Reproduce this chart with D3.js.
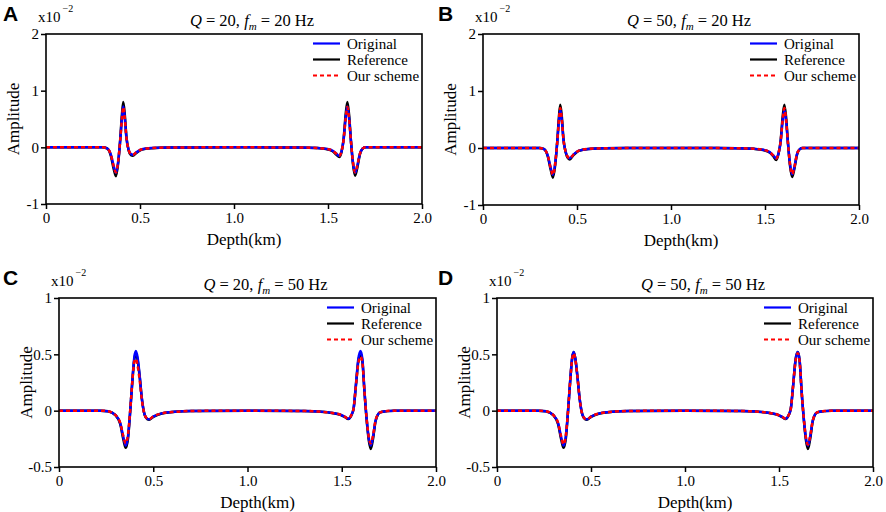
<!DOCTYPE html>
<html lang="en">
<head>
  <meta charset="UTF-8">
  <title>Wavefield comparison</title>
  <script src="https://d3js.org/d3.v7.min.js"></script>
  <style>
    body {
      margin: 0;
      padding: 0;
      background-color: #fff;
    }
    svg text {
      font-family: "Liberation Serif", "Times New Roman", serif;
      fill: #000;
    }
    .letter {
      font-family: "Liberation Sans", Arial, sans-serif !important;
      font-weight: bold;
    }
  </style>
</head>
<body>
  <svg id="chart" width="886" height="512"></svg>

  <script>
    // ---- data (amplitudes in units of 1e-2) ----
    const panelLetters = ["A", "B", "C", "D"];
    const panelQ = [20, 50, 20, 50];
    const panelFm = [20, 20, 50, 50];
    const seriesNames = ["Original", "Reference", "Our scheme"];

    const xTicks = [0, 0.5, 1, 1.5, 2];
    const xTickLabels = ["0", "0.5", "1.0", "1.5", "2.0"];
    const yTicks20 = [-1, 0, 1, 2];
    const yTickLabels20 = ["-1", "0", "1", "2"];
    const yTicks50 = [-0.5, 0, 0.5, 1];
    const yTickLabels50 = ["-0.5", "0", "0.5", "1"];

    // depth samples (km) for the 20 Hz panels
    const depth20 = [0, 0.30, 0.325, 0.345, 0.36, 0.372, 0.384, 0.395, 0.404, 0.411,
      0.419, 0.428, 0.44, 0.452, 0.462, 0.48, 0.51, 0.56, 0.65, 1.0,
      1.35, 1.44, 1.49, 1.525, 1.545, 1.56, 1.572, 1.583, 1.594, 1.603,
      1.612, 1.622, 1.633, 1.644, 1.656, 1.67, 1.685, 1.70, 2.0];

    const refA = [0, 0, -0.02, -0.15, -0.38, -0.51, -0.28, 0.15, 0.58, 0.80,
      0.58, 0.18, -0.06, -0.14, -0.15, -0.10, -0.04, -0.015, -0.003, 0,
      -0.003, -0.012, -0.03, -0.07, -0.13, -0.17, -0.08, 0.15, 0.58, 0.80,
      0.58, 0.12, -0.30, -0.50, -0.36, -0.12, -0.02, 0, 0];
    const origA = [0, 0, -0.02, -0.13, -0.33, -0.45, -0.25, 0.13, 0.52, 0.72,
      0.52, 0.16, -0.05, -0.12, -0.13, -0.09, -0.035, -0.013, -0.003, 0,
      -0.003, -0.011, -0.027, -0.06, -0.115, -0.15, -0.07, 0.13, 0.52, 0.72,
      0.52, 0.11, -0.27, -0.45, -0.32, -0.11, -0.02, 0, 0];
    const schemeA = [0, 0, -0.02, -0.13, -0.33, -0.44, -0.24, 0.13, 0.51, 0.71,
      0.51, 0.16, -0.05, -0.12, -0.13, -0.09, -0.035, -0.013, -0.003, 0,
      -0.003, -0.011, -0.027, -0.06, -0.115, -0.15, -0.07, 0.13, 0.51, 0.71,
      0.51, 0.11, -0.26, -0.44, -0.32, -0.11, -0.02, 0, 0];

    const refB = [0, 0, -0.02, -0.15, -0.38, -0.52, -0.30, 0.12, 0.55, 0.76,
      0.56, 0.16, -0.08, -0.18, -0.20, -0.13, -0.05, -0.018, -0.004, 0,
      -0.004, -0.015, -0.035, -0.08, -0.15, -0.21, -0.10, 0.12, 0.55, 0.76,
      0.55, 0.10, -0.31, -0.51, -0.37, -0.12, -0.02, 0, 0];
    const origB = [0, 0, -0.02, -0.14, -0.35, -0.47, -0.27, 0.10, 0.48, 0.67,
      0.49, 0.14, -0.07, -0.16, -0.18, -0.12, -0.045, -0.016, -0.004, 0,
      -0.004, -0.014, -0.032, -0.072, -0.135, -0.18, -0.09, 0.10, 0.48, 0.67,
      0.48, 0.09, -0.28, -0.46, -0.34, -0.11, -0.02, 0, 0];
    const schemeB = [0, 0, -0.02, -0.14, -0.35, -0.47, -0.27, 0.11, 0.50, 0.70,
      0.51, 0.15, -0.07, -0.16, -0.18, -0.12, -0.045, -0.016, -0.004, 0,
      -0.004, -0.014, -0.032, -0.072, -0.135, -0.18, -0.09, 0.11, 0.50, 0.70,
      0.50, 0.09, -0.28, -0.46, -0.34, -0.11, -0.02, 0, 0];

    // depth samples (km) for the 50 Hz panels
    const depth50 = [0, 0.22, 0.26, 0.30, 0.325, 0.342, 0.354, 0.366, 0.378, 0.39,
      0.40, 0.408, 0.416, 0.428, 0.44, 0.455, 0.468, 0.478, 0.50, 0.545,
      0.615, 0.70, 1.0, 1.30, 1.38, 1.45, 1.49, 1.515, 1.535, 1.55,
      1.563, 1.575, 1.588, 1.60, 1.61, 1.62, 1.632, 1.644, 1.654, 1.666,
      1.68, 1.703, 1.74, 1.78, 2.0];

    const refC = [0, 0, -0.005, -0.04, -0.12, -0.26, -0.33, -0.25, 0, 0.28,
      0.46, 0.51, 0.46, 0.30, 0.10, -0.04, -0.075, -0.08, -0.055, -0.025,
      -0.01, -0.003, 0, -0.003, -0.008, -0.02, -0.035, -0.055, -0.075, -0.045,
      0.02, 0.22, 0.44, 0.51, 0.43, 0.18, -0.08, -0.27, -0.34, -0.25,
      -0.09, -0.015, -0.004, 0, 0];
    const origC = [0, 0, -0.005, -0.04, -0.11, -0.24, -0.31, -0.23, 0, 0.29,
      0.48, 0.53, 0.48, 0.31, 0.10, -0.04, -0.072, -0.077, -0.053, -0.024,
      -0.01, -0.003, 0, -0.003, -0.008, -0.02, -0.034, -0.053, -0.072, -0.043,
      0.02, 0.23, 0.46, 0.53, 0.45, 0.19, -0.07, -0.25, -0.31, -0.23,
      -0.085, -0.015, -0.004, 0, 0];
    const schemeC = [0, 0, -0.005, -0.04, -0.11, -0.23, -0.29, -0.21, 0.01, 0.28,
      0.44, 0.46, 0.41, 0.27, 0.09, -0.04, -0.07, -0.075, -0.052, -0.024,
      -0.01, -0.003, 0, -0.003, -0.008, -0.02, -0.034, -0.052, -0.07, -0.042,
      0.02, 0.22, 0.42, 0.48, 0.42, 0.18, -0.07, -0.24, -0.29, -0.22,
      -0.08, -0.015, -0.004, 0, 0];

    const refD = [0, 0, -0.005, -0.04, -0.12, -0.26, -0.33, -0.25, 0, 0.28,
      0.47, 0.52, 0.47, 0.30, 0.10, -0.04, -0.075, -0.08, -0.055, -0.025,
      -0.01, -0.003, 0, -0.003, -0.008, -0.02, -0.035, -0.055, -0.075, -0.045,
      0.02, 0.22, 0.45, 0.52, 0.44, 0.18, -0.08, -0.27, -0.34, -0.25,
      -0.09, -0.015, -0.004, 0, 0];
    const origD = [0, 0, -0.005, -0.04, -0.11, -0.24, -0.31, -0.23, 0, 0.28,
      0.47, 0.52, 0.47, 0.30, 0.10, -0.04, -0.072, -0.077, -0.053, -0.024,
      -0.01, -0.003, 0, -0.003, -0.008, -0.02, -0.034, -0.053, -0.072, -0.043,
      0.02, 0.22, 0.45, 0.52, 0.44, 0.18, -0.07, -0.25, -0.31, -0.23,
      -0.085, -0.015, -0.004, 0, 0];
    const schemeD = [0, 0, -0.005, -0.04, -0.11, -0.235, -0.30, -0.22, 0, 0.28,
      0.46, 0.51, 0.46, 0.30, 0.10, -0.04, -0.072, -0.077, -0.053, -0.024,
      -0.01, -0.003, 0, -0.003, -0.008, -0.02, -0.034, -0.053, -0.072, -0.043,
      0.02, 0.22, 0.44, 0.51, 0.43, 0.18, -0.07, -0.245, -0.30, -0.225,
      -0.085, -0.015, -0.004, 0, 0];

    // ---- layout ----
    const frames = [
      { left: 46,  top: 34,  right: 422, bottom: 204 },
      { left: 483, top: 34,  right: 859, bottom: 205 },
      { left: 59,  top: 298, right: 436, bottom: 467 },
      { left: 497, top: 298, right: 873, bottom: 467 }
    ];

    const panels = [
      { depth: depth20, orig: origA, ref: refA, scheme: schemeA, yDomain: [-1, 2], yTicks: yTicks20, yLabels: yTickLabels20 },
      { depth: depth20, orig: origB, ref: refB, scheme: schemeB, yDomain: [-1, 2], yTicks: yTicks20, yLabels: yTickLabels20 },
      { depth: depth50, orig: origC, ref: refC, scheme: schemeC, yDomain: [-0.5, 1], yTicks: yTicks50, yLabels: yTickLabels50 },
      { depth: depth50, orig: origD, ref: refD, scheme: schemeD, yDomain: [-0.5, 1], yTicks: yTicks50, yLabels: yTickLabels50 }
    ];

    const colors = { orig: "#0000ff", ref: "#000000", scheme: "#ff0000" };
    const svg = d3.select("#chart");

    panels.forEach((p, i) => {
      const f = frames[i];
      const g = svg.append("g");
      const x = d3.scaleLinear().domain([0, 2]).range([f.left, f.right]);
      const y = d3.scaleLinear().domain(p.yDomain).range([f.bottom, f.top]);

      const clipId = "clip" + i;
      g.append("clipPath").attr("id", clipId)
        .append("rect")
        .attr("x", f.left).attr("y", f.top)
        .attr("width", f.right - f.left).attr("height", f.bottom - f.top);

      // curves: reference underneath, original, then dashed scheme on top
      const line = d3.line()
        .x((d, k) => x(p.depth[k]))
        .y(d => y(d))
        .curve(d3.curveMonotoneX);

      const curves = g.append("g").attr("clip-path", `url(#${clipId})`);
      curves.append("path").attr("d", line(p.ref))
        .attr("fill", "none").attr("stroke", colors.ref).attr("stroke-width", 2.5);
      curves.append("path").attr("d", line(p.orig))
        .attr("fill", "none").attr("stroke", colors.orig).attr("stroke-width", 2.5);
      curves.append("path").attr("d", line(p.scheme))
        .attr("fill", "none").attr("stroke", colors.scheme).attr("stroke-width", 2.5)
        .attr("stroke-dasharray", "4,3");

      // axes
      const xAxis = d3.axisBottom(x).tickValues(xTicks)
        .tickFormat((d, k) => xTickLabels[k]).tickSize(5).tickPadding(3);
      const yAxis = d3.axisLeft(y).tickValues(p.yTicks)
        .tickFormat((d, k) => p.yLabels[k]).tickSize(5).tickPadding(2);

      const gx = g.append("g").attr("transform", `translate(0,${f.bottom})`).call(xAxis);
      const gy = g.append("g").attr("transform", `translate(${f.left},0)`).call(yAxis);
      [gx, gy].forEach(a => {
        a.select(".domain").remove();
        a.selectAll("line").attr("stroke", "#000").attr("stroke-width", 1.5);
        a.selectAll("text").attr("font-size", 15)
          .style("font-family", "'Liberation Serif', serif").attr("fill", "#000");
      });

      // frame
      g.append("rect")
        .attr("x", f.left).attr("y", f.top)
        .attr("width", f.right - f.left).attr("height", f.bottom - f.top)
        .attr("fill", "none").attr("stroke", "#000").attr("stroke-width", 1.6);

      const cx = (f.left + f.right) / 2;

      // title
      const title = g.append("text")
        .attr("x", cx + 18).attr("y", f.top - 8)
        .attr("text-anchor", "middle").attr("font-size", 16.5);
      title.append("tspan").attr("font-style", "italic").text("Q");
      title.append("tspan").text(" = " + panelQ[i] + ",  ");
      title.append("tspan").attr("font-style", "italic").text("f");
      title.append("tspan").attr("font-style", "italic").attr("font-size", 11)
        .attr("dy", 4).text("m");
      title.append("tspan").attr("dy", -4).text(" = " + panelFm[i] + " Hz");

      // axis titles
      g.append("text")
        .attr("x", cx + 10).attr("y", f.bottom + 41)
        .attr("text-anchor", "middle").attr("font-size", 17)
        .text("Depth(km)");
      g.append("text")
        .attr("transform", `translate(${f.left - 27},${(f.top + f.bottom) / 2}) rotate(-90)`)
        .attr("text-anchor", "middle").attr("font-size", 17)
        .text("Amplitude");

      // exponent
      const ex = g.append("text")
        .attr("x", f.left - 8).attr("y", f.top - 12).attr("font-size", 15);
      ex.append("tspan").text("x10");
      ex.append("tspan").attr("font-size", 10).attr("dy", -10).attr("dx", 2).text("\u22122");

      // panel letter
      g.append("text").attr("class", "letter")
        .attr("x", i % 2 === 0 ? 3 : 438).attr("y", f.top - 13)
        .attr("font-size", 21)
        .text(panelLetters[i]);

      // legend
      const legKeys = ["orig", "ref", "scheme"];
      legKeys.forEach((k, r) => {
        const ly = f.top + 9.5 + r * 16;
        const ln = g.append("line")
          .attr("x1", f.right - 109).attr("x2", f.right - 82)
          .attr("y1", ly).attr("y2", ly)
          .attr("stroke", colors[k]).attr("stroke-width", 2.2);
        if (k === "scheme") ln.attr("stroke-dasharray", "4,3");
        g.append("text")
          .attr("x", f.right - 75).attr("y", ly + 5)
          .attr("font-size", 15)
          .text(seriesNames[r]);
      });
    });
  </script>
</body>
</html>
